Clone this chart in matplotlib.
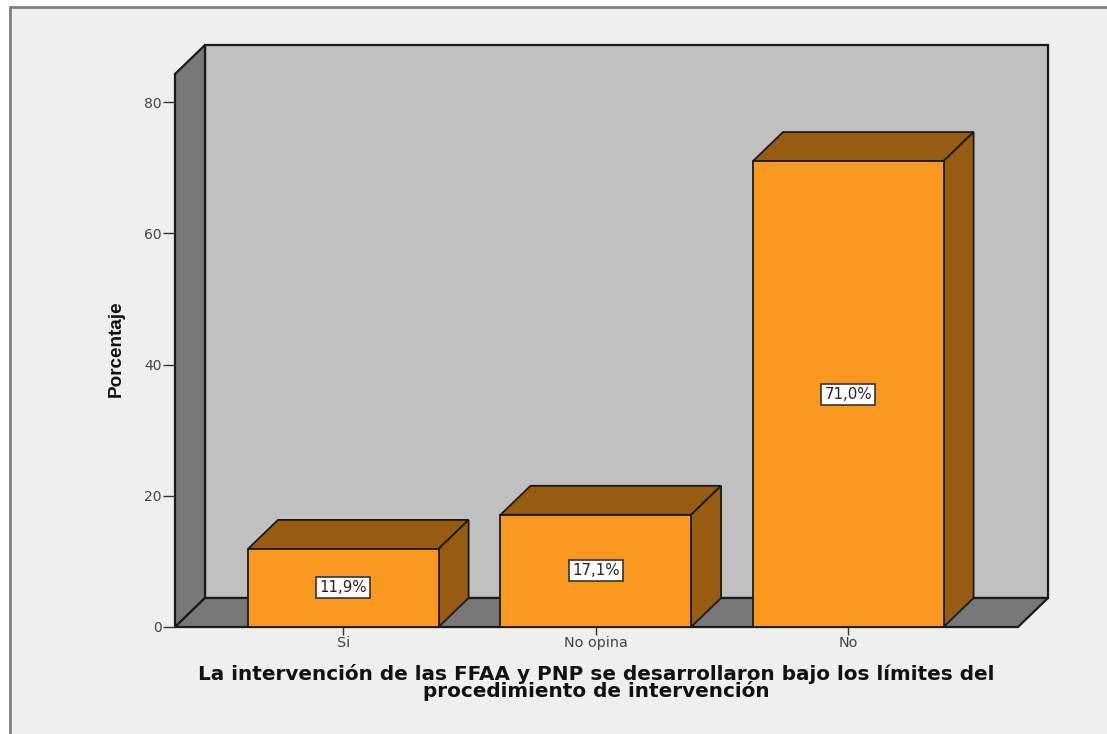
import matplotlib
matplotlib.use("Agg")
import matplotlib.pyplot as plt
from matplotlib.patches import Polygon, Rectangle

categorias = ["Si", "No opina", "No"]
porcentajes = [11.9, 17.1, 71.0]
etiquetas = ["11,9%", "17,1%", "71,0%"]
marcas_y = [0, 20, 40, 60, 80]
titulo_x = "La intervención de las FFAA y PNP se desarrollaron bajo los límites del\nprocedimiento de intervención"
titulo_y = "Porcentaje"

ancho, alto = 1107, 734
naranja = "#fa981f"
marron = "#975b12"
gris_oscuro = "#787878"
gris_pared = "#c0c0c0"
fondo = "#efefef"
linea = "#1a1a1a"

fig = plt.figure(figsize=(ancho / 100, alto / 100), dpi=100, facecolor="white")

# fondo de la ventana con su borde gris
fig.add_artist(Rectangle((10 / ancho, -0.01), 1.1, 1 - 6.5 / alto + 0.01, transform=fig.transFigure,
                         facecolor=fondo, edgecolor="#808080", linewidth=2, zorder=-1))

# ejes: izquierda 175 px, abajo 627 px, derecha 1048 px, arriba 45 px
ax = fig.add_axes([175 / ancho, 1 - 627 / alto, (1048 - 175) / ancho, (627 - 45) / alto])
px_x = 252.5
px_y = 6.5625
ax.set_xlim((175 - 343.3) / px_x, (1048 - 343.3) / px_x)
ax.set_ylim(0, (627 - 45) / px_y)
ax.patch.set_alpha(0)
for lado in ax.spines.values():
    lado.set_visible(False)

# profundidad del grafico 3D
dx = 30 / px_x
dy = 29 / px_y
x0, x1 = ax.get_xlim()
x1_frente = x1 - dx
y_arriba = ax.get_ylim()[1]

ax.add_patch(Polygon([(x0 + dx, dy), (x1, dy), (x1, y_arriba), (x0 + dx, y_arriba)],
                     facecolor=gris_pared, edgecolor=linea, linewidth=1.6, clip_on=False))
ax.add_patch(Polygon([(x0, 0), (x0 + dx, dy), (x0 + dx, y_arriba), (x0, y_arriba - dy)],
                     facecolor=gris_oscuro, edgecolor=linea, linewidth=1.6, clip_on=False))
ax.add_patch(Polygon([(x0, 0), (x1_frente, 0), (x1, dy), (x0 + dx, dy)],
                     facecolor=gris_oscuro, edgecolor=linea, linewidth=1.6, clip_on=False))

# barras
ancho_barra = 190.6 / px_x
for i, valor in enumerate(porcentajes):
    izq = i - ancho_barra / 2
    der = i + ancho_barra / 2
    ax.add_patch(Polygon([(izq, valor), (der, valor), (der + dx, valor + dy), (izq + dx, valor + dy)],
                         facecolor=marron, edgecolor=linea, linewidth=1.3, zorder=3))
    ax.add_patch(Polygon([(der, 0), (der + dx, dy), (der + dx, valor + dy), (der, valor)],
                         facecolor=marron, edgecolor=linea, linewidth=1.3, zorder=3))
    ax.bar(i, valor, width=ancho_barra, color=naranja, edgecolor=linea, linewidth=1.3, zorder=4)
    ax.text(i, valor / 2, etiquetas[i], ha="center", va="center", fontsize=10.8,
            family="DejaVu Sans", color="#222222", zorder=5,
            bbox=dict(boxstyle="square,pad=0.2", facecolor="white", edgecolor="#333333", linewidth=1.2))

ax.set_xticks(range(len(categorias)))
ax.set_xticklabels(categorias, family="DejaVu Sans", fontsize=10.4, color="#444444")
ax.set_yticks(marcas_y)
ax.set_yticklabels([str(m) for m in marcas_y], family="DejaVu Sans", fontsize=10, color="#444444")
ax.tick_params(axis="x", length=5.8, width=1, color="#333333", pad=0.5)
ax.tick_params(axis="y", length=8.6, width=1, color="#333333", pad=0.8)

fig.text(596 / ancho, 1 - 682.5 / alto, titulo_x, ha="center", va="center", fontsize=14.4,
         fontweight="bold", family="DejaVu Sans", color="#111111", linespacing=0.85)
fig.text(116 / ancho, 1 - 349 / alto, titulo_y, ha="center", va="center", rotation=90, fontsize=13.6,
         fontweight="bold", family=["Liberation Sans Narrow", "Liberation Sans"], color="#111111")

fig.savefig("out.png", dpi=100)
